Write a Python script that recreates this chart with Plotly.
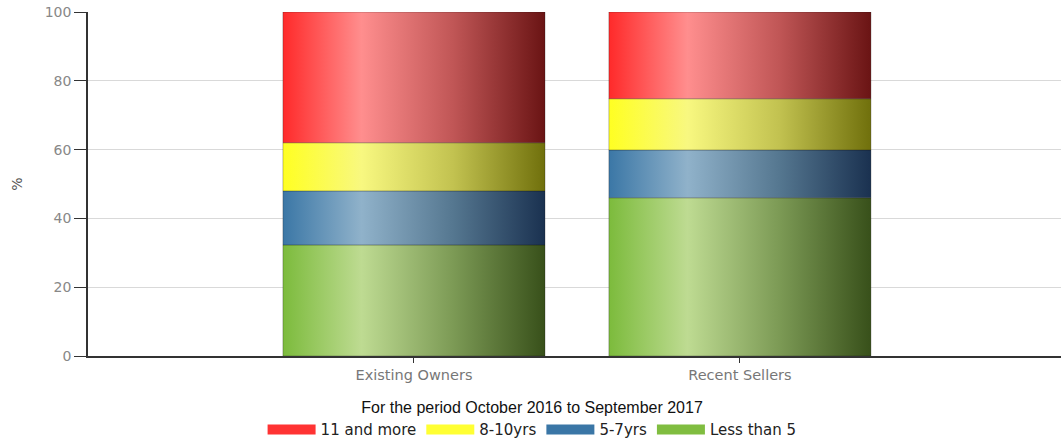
import plotly.graph_objects as go

categories = ["Existing Owners", "Recent Sellers"]
series_names = ["Less than 5", "5-7yrs", "8-10yrs", "11 and more"]
less_than_5 = [32.3, 46.0]
yrs_5_7 = [15.7, 13.9]
yrs_8_10 = [14.0, 14.9]
more_11 = [38.0, 25.2]
legend_title = "For the period October 2016 to September 2017"
y_title = "%"
y_ticks = [0, 20, 40, 60, 80, 100]

series_values = [less_than_5, yrs_5_7, yrs_8_10, more_11]
base_colors = ["#80bd40", "#3a76a6", "#ffff33", "#ff3333"]
gradients = [
    [[0, "#7cbb3c"], [0.3, "#bedb92"], [0.65, "#7c9a55"], [1, "#38501a"]],
    [[0, "#3b77a6"], [0.3, "#90b2ca"], [0.65, "#557790"], [1, "#1a3150"]],
    [[0, "#ffff22"], [0.3, "#f8f880"], [0.65, "#c2c250"], [1, "#70700c"]],
    [[0, "#ff2a2a"], [0.3, "#ff8e8e"], [0.65, "#c05656"], [1, "#6a1414"]],
]

half_w = 0.402
fig = go.Figure()

for i, cat in enumerate(categories):
    base = 0.0
    for s, vals in enumerate(series_values):
        v = vals[i]
        x0, x1 = i - half_w, i + half_w
        fig.add_trace(go.Scatter(
            x=[x0, x1, x1, x0, x0],
            y=[base, base, base + v, base + v, base],
            mode="lines",
            fill="toself",
            fillgradient=dict(type="horizontal", colorscale=gradients[s]),
            line=dict(color="rgba(20,20,20,0.35)", width=0.8),
            showlegend=False,
            hoverinfo="skip",
        ))
        base += v

# legend entries (order as in the reference)
for s in [3, 2, 1, 0]:
    fig.add_trace(go.Scatter(
        x=[None], y=[None], mode="lines",
        line=dict(color=base_colors[s], width=15),
        name=series_names[s],
        showlegend=True,
    ))

fig.update_layout(
    width=1061, height=445,
    margin=dict(l=88, r=0, t=12, b=89),
    plot_bgcolor="white", paper_bgcolor="white",
    showlegend=True,
    legend=dict(
        orientation="h",
        xref="container", yref="container",
        x=0.5015, xanchor="center",
        y=0.118, yanchor="top",
        title=dict(text=legend_title, side="top center",
                   font=dict(family="Liberation Sans, Arial", size=16, color="#111")),
        font=dict(family="DejaVu Sans", size=15, color="#222"),
        itemwidth=48,
        tracegroupgap=0,
    ),
    xaxis=dict(
        range=[-1.0, 1.985],
        tickvals=[0, 1], ticktext=categories,
        showgrid=False, zeroline=False,
        showline=True, linecolor="#333", linewidth=1.5,
        ticks="outside", ticklen=5, tickcolor="#333",
        tickfont=dict(family="DejaVu Sans", size=14.5, color="#777"),
        fixedrange=True,
    ),
    yaxis=dict(
        range=[0, 100],
        tickvals=y_ticks,
        showgrid=True, gridcolor="#d9d9d9", gridwidth=1,
        zeroline=False,
        showline=True, linecolor="#333", linewidth=1.5,
        ticks="outside", ticklen=12, tickcolor="#333",
        ticklabeloverflow="allow",
        tickfont=dict(family="DejaVu Sans", size=14, color="#888"),
        title=dict(text=y_title, font=dict(family="DejaVu Sans", size=14, color="#555"), standoff=19),
        fixedrange=True,
    ),
)

fig.write_html(
    "out.html",
    config={"displayModeBar": False},
    post_script="document.body.style.margin='0';document.body.style.overflow='hidden';",
)
